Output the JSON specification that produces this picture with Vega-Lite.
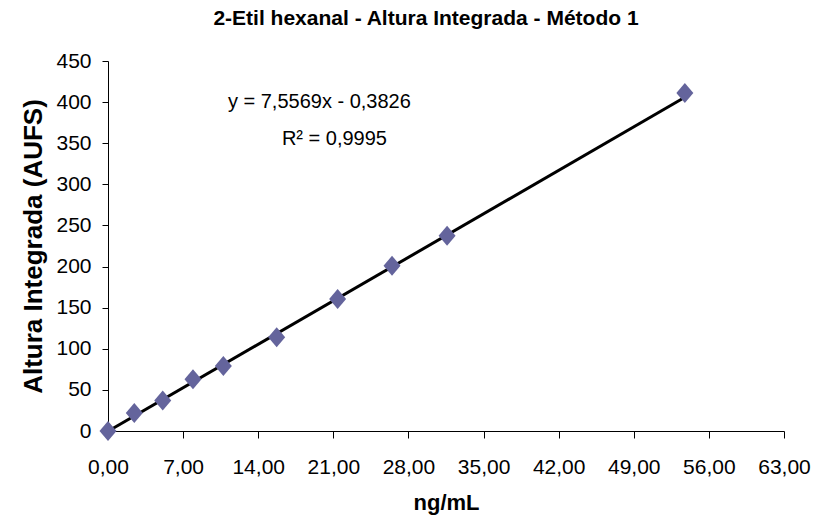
{
  "$schema": "https://vega.github.io/schema/vega-lite/v6.json",
  "autosize": "none",
  "width": 676,
  "height": 370,
  "padding": {"left": 108, "top": 61, "right": 36, "bottom": 88},
  "background": "white",
  "config": {
    "view": {"stroke": null},
    "font": "Liberation Sans",
    "axis": {"grid": false, "domainColor": "black", "domainWidth": 1, "tickColor": "black", "labelColor": "black", "titleColor": "black", "labelFont": "Liberation Sans", "titleFont": "Liberation Sans"}
  },
  "title": {
    "text": "2-Etil hexanal - Altura Integrada - Método 1",
    "font": "Liberation Sans",
    "fontSize": 21,
    "fontWeight": "bold",
    "color": "black",
    "anchor": "middle",
    "dx": -20,
    "offset": 21
  },
  "datasets": {
    "pts": [
      {"x": 0, "y": 0},
      {"x": 2.45, "y": 22},
      {"x": 5.1, "y": 37},
      {"x": 7.92, "y": 63},
      {"x": 10.75, "y": 79},
      {"x": 15.72, "y": 114},
      {"x": 21.4, "y": 160.5},
      {"x": 26.47, "y": 201},
      {"x": 31.6, "y": 237.5},
      {"x": 53.76, "y": 411}
    ],
    "trend": [
      {"x": 0, "y": -0.3826},
      {"x": 53.76, "y": 405.9}
    ],
    "labels": [
      {"x": 19.7, "y": 400, "t": "y = 7,5569x - 0,3826"},
      {"x": 21.1, "y": 355, "t": "R² = 0,9995"}
    ]
  },
  "layer": [
    {
      "data": {"name": "trend"},
      "mark": {"type": "line", "color": "black", "strokeWidth": 3, "clip": false},
      "encoding": {
        "x": {"field": "x", "type": "quantitative"},
        "y": {"field": "y", "type": "quantitative"}
      }
    },
    {
      "data": {"name": "pts"},
      "mark": {"type": "point", "shape": "M-0.85,0L0,-1L0.85,0L0,1Z", "filled": true, "color": "#64649c", "opacity": 1, "size": 400, "clip": false},
      "encoding": {
        "x": {
          "field": "x", "type": "quantitative",
          "scale": {"domain": [0, 63], "nice": false, "zero": true},
          "axis": {
            "values": [0, 7, 14, 21, 28, 35, 42, 49, 56, 63],
            "labelExpr": "replace(format(datum.value, '.2f'), '.', ',')",
            "title": "ng/mL",
            "titleFontSize": 22,
            "titleFontWeight": "bold",
            "titlePadding": 15,
            "labelFontSize": 21,
            "labelPadding": 18,
            "tickSize": 7,
            "labelFlush": false,
            "labelOverlap": false
          }
        },
        "y": {
          "field": "y", "type": "quantitative",
          "scale": {"domain": [0, 450], "nice": false},
          "axis": {
            "values": [0, 50, 100, 150, 200, 250, 300, 350, 400, 450],
            "title": "Altura Integrada (AUFS)",
            "titleFontSize": 26,
            "titleFontWeight": "bold",
            "titlePadding": 9,
            "labelFontSize": 21,
            "labelPadding": 11,
            "tickSize": 6,
            "labelFlush": false,
            "labelOverlap": false
          }
        }
      }
    },
    {
      "data": {"name": "labels"},
      "mark": {"type": "text", "fontSize": 20, "color": "black", "align": "center", "baseline": "middle", "font": "Liberation Sans"},
      "encoding": {
        "x": {"field": "x", "type": "quantitative"},
        "y": {"field": "y", "type": "quantitative"},
        "text": {"field": "t"}
      }
    }
  ]
}
